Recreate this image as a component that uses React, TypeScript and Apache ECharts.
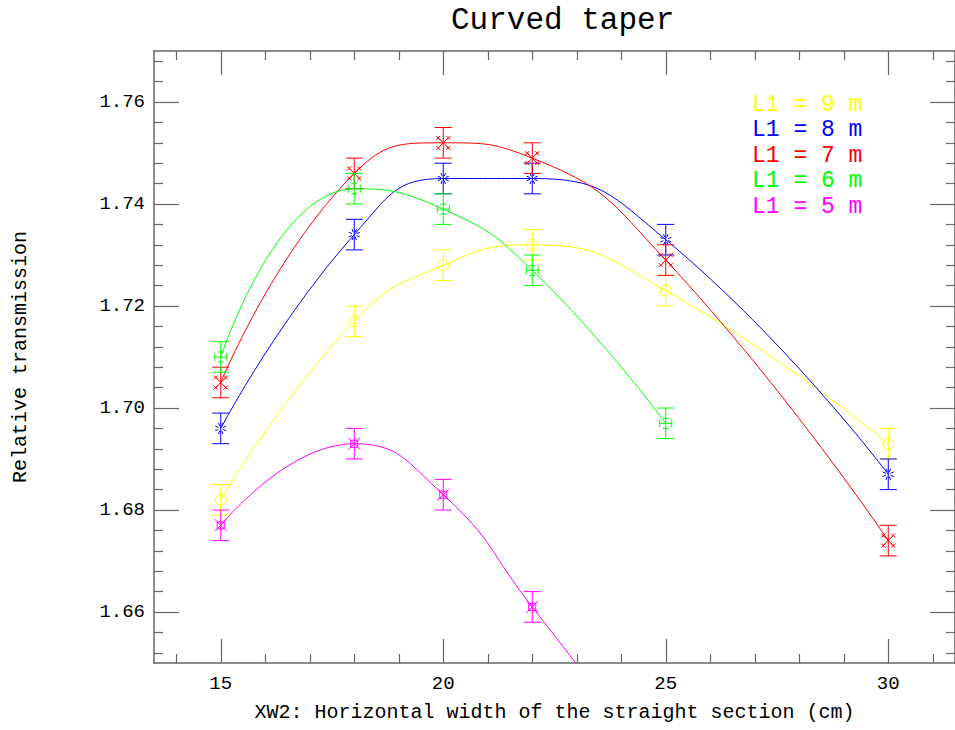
import React, { useEffect, useRef } from "react";
import * as echarts from "echarts";

// ---- data ----
const X_FULL = [15, 18, 20, 22, 25, 30];
const X_SHORT = [15, 18, 20, 22, 25];
const L1_9M = [1.682, 1.717, 1.728, 1.732, 1.723, 1.693];
const L1_8M = [1.696, 1.734, 1.745, 1.745, 1.733, 1.687];
const L1_7M = [1.705, 1.746, 1.752, 1.749, 1.729, 1.674];
const L1_6M = [1.71, 1.743, 1.739, 1.727, 1.697];
const L1_5M = [1.677, 1.693, 1.683, 1.661, 1.627];
const ERR = 0.003;

const X_MAJOR = [15, 20, 25, 30];
const X_MINOR = [14, 16, 17, 18, 19, 21, 22, 23, 24, 26, 27, 28, 29, 31];
const Y_MAJOR = [1.66, 1.68, 1.7, 1.72, 1.74, 1.76];
const Y_MINOR = [
  1.652, 1.656, 1.664, 1.668, 1.672, 1.676, 1.684, 1.688, 1.692, 1.696,
  1.704, 1.708, 1.712, 1.716, 1.724, 1.728, 1.732, 1.736, 1.744, 1.748,
  1.752, 1.756, 1.764, 1.768,
];

const SERIES = [
  { name: "L1 = 9 m", xs: X_FULL, ys: L1_9M, color: "#ffff00", marker: "circle" },
  { name: "L1 = 8 m", xs: X_FULL, ys: L1_8M, color: "#0000ff", marker: "star" },
  { name: "L1 = 7 m", xs: X_FULL, ys: L1_7M, color: "#ff0000", marker: "cross" },
  { name: "L1 = 6 m", xs: X_SHORT, ys: L1_6M, color: "#00ff00", marker: "plus" },
  { name: "L1 = 5 m", xs: X_SHORT, ys: L1_5M, color: "#ff00ff", marker: "square" },
];

const FONT = "'Liberation Mono', 'DejaVu Sans Mono', monospace";
const AXIS_COLOR = "#666666";

function seg(x1: number, y1: number, x2: number, y2: number, color: string) {
  return {
    type: "line",
    shape: { x1, y1, x2, y2 },
    style: { stroke: color, lineWidth: 1, fill: "none" },
  };
}

function makeRenderItem(color: string, marker: string) {
  return (params: any, api: any) => {
    const x = api.value(0);
    const y = api.value(1);
    const p = api.coord([x, y]);
    const top = api.coord([x, y + ERR]);
    const bot = api.coord([x, y - ERR]);
    const cap = 8.5;
    const cx = p[0];
    const cy = p[1];
    const children: any[] = [
      seg(cx, top[1], cx, bot[1], color),
      seg(cx - cap, top[1], cx + cap, top[1], color),
      seg(cx - cap, bot[1], cx + cap, bot[1], color),
    ];
    if (marker === "circle") {
      children.push({
        type: "circle",
        shape: { cx, cy, r: 5.5 },
        style: { stroke: color, fill: "none", lineWidth: 1 },
      });
    } else if (marker === "star") {
      for (let k = 0; k < 8; k++) {
        const a = (k * Math.PI) / 4 + Math.PI / 8;
        const c = Math.cos(a);
        const s = Math.sin(a);
        children.push(seg(cx + 2.5 * c, cy + 2.5 * s, cx + 6 * c, cy + 6 * s, color));
      }
    } else if (marker === "cross") {
      children.push(seg(cx - 6, cy - 6, cx + 6, cy + 6, color));
      children.push(seg(cx - 6, cy + 6, cx + 6, cy - 6, color));
      const ends = [
        [-5, -5],
        [5, -5],
        [-5, 5],
        [5, 5],
      ];
      ends.forEach(([dx, dy]) => {
        children.push(seg(cx + dx - 2, cy + dy - 2, cx + dx + 2, cy + dy + 2, color));
        children.push(seg(cx + dx - 2, cy + dy + 2, cx + dx + 2, cy + dy - 2, color));
      });
    } else if (marker === "plus") {
      children.push(seg(cx - 6, cy, cx + 6, cy, color));
      children.push(seg(cx - 6, cy - 4, cx - 6, cy + 4, color));
      children.push(seg(cx + 6, cy - 4, cx + 6, cy + 4, color));
      children.push(seg(cx - 3, cy - 5, cx + 3, cy - 5, color));
      children.push(seg(cx - 3, cy + 5, cx + 3, cy + 5, color));
    } else if (marker === "square") {
      children.push({
        type: "rect",
        shape: { x: cx - 3.5, y: cy - 3.5, width: 7, height: 7 },
        style: { stroke: color, fill: "none", lineWidth: 1 },
      });
      children.push(seg(cx - 6, cy - 6, cx + 6, cy + 6, color));
      children.push(seg(cx - 6, cy + 6, cx + 6, cy - 6, color));
    }
    return { type: "group", children };
  };
}

function xAxisDef(position: string, ticks: number[], len: number, labels: boolean, lineShow: boolean) {
  return {
    type: "value",
    position,
    min: 13.5,
    max: 31.5,
    axisLine: { show: lineShow, onZero: false, lineStyle: { color: AXIS_COLOR, width: 1.5 } },
    axisTick: {
      show: true,
      inside: true,
      length: len,
      customValues: ticks,
      lineStyle: { color: AXIS_COLOR, width: 1.2 },
    },
    axisLabel: labels
      ? { show: true, customValues: X_MAJOR, color: "#000", fontFamily: FONT, fontSize: 19, margin: 11 }
      : { show: false },
    splitLine: { show: false },
  };
}

function yAxisDef(position: string, ticks: number[], len: number, labels: boolean, lineShow: boolean) {
  return {
    type: "value",
    position,
    min: 1.65,
    max: 1.77,
    axisLine: { show: lineShow, onZero: false, lineStyle: { color: AXIS_COLOR, width: 1.5 } },
    axisTick: {
      show: true,
      inside: true,
      length: len,
      customValues: ticks,
      lineStyle: { color: AXIS_COLOR, width: 1.2 },
    },
    axisLabel: labels
      ? {
          show: true,
          customValues: Y_MAJOR,
          color: "#000",
          fontFamily: FONT,
          fontSize: 19,
          margin: 9,
          formatter: (v: number) => v.toFixed(2),
        }
      : { show: false },
    splitLine: { show: false },
  };
}

export default function App() {
  const ref = useRef<HTMLDivElement>(null);

  useEffect(() => {
    document.body.style.margin = "0";
    if (!ref.current) return;
    const chart = echarts.init(ref.current, undefined, { renderer: "svg" });

    const xAxes: any[] = [
      {
        ...xAxisDef("bottom", X_MAJOR, 24, true, true),
        name: "XW2: Horizontal width of the straight section (cm)",
        nameLocation: "middle",
        nameGap: 39,
        nameTextStyle: { color: "#000", fontFamily: FONT, fontSize: 20 },
      },
      xAxisDef("bottom", X_MINOR, 9, false, false),
      xAxisDef("top", X_MAJOR, 24, false, true),
      xAxisDef("top", X_MINOR, 9, false, false),
    ];
    const yAxes: any[] = [
      {
        ...yAxisDef("left", Y_MAJOR, 25, true, true),
        name: "Relative transmission",
        nameLocation: "middle",
        nameGap: 124,
        nameTextStyle: { color: "#000", fontFamily: FONT, fontSize: 20 },
      },
      yAxisDef("left", Y_MINOR, 9, false, false),
      yAxisDef("right", Y_MAJOR, 25, false, true),
      yAxisDef("right", Y_MINOR, 9, false, false),
    ];

    const series: any[] = [];
    SERIES.forEach((s) => {
      const data = s.xs.map((x, i) => [x, s.ys[i]]);
      series.push({
        name: s.name,
        type: "line",
        data,
        smooth: true,
        showSymbol: false,
        clip: true,
        xAxisIndex: 0,
        yAxisIndex: 0,
        lineStyle: { color: s.color, width: 1 },
        itemStyle: { color: s.color },
        z: 2,
      });
      series.push({
        name: s.name,
        type: "custom",
        data,
        clip: true,
        xAxisIndex: 0,
        yAxisIndex: 0,
        encode: { x: 0, y: 1 },
        renderItem: makeRenderItem(s.color, s.marker),
        z: 3,
      });
    });

    const legendTexts = SERIES.map((s, i) => ({
      type: "text",
      left: 752,
      top: 93 + i * 25.6,
      style: {
        text: s.name,
        fill: s.color,
        font: `23px ${FONT}`,
      },
      z: 10,
    }));

    chart.setOption({
      animation: false,
      backgroundColor: "#ffffff",
      title: {
        text: "Curved taper",
        left: 446,
        top: 0,
        textStyle: { color: "#000", fontFamily: FONT, fontSize: 31, fontWeight: "normal" },
      },
      grid: { left: 154, top: 51, width: 807, height: 612, containLabel: false },
      xAxis: xAxes,
      yAxis: yAxes,
      series,
      graphic: legendTexts,
    });

    return () => chart.dispose();
  }, []);

  return <div ref={ref} style={{ width: 955, height: 730 }} />;
}
